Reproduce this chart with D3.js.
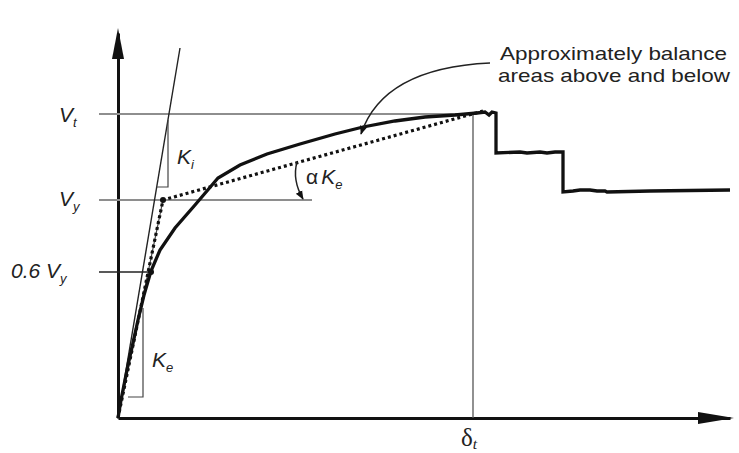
<!DOCTYPE html>
<html>
<head>
<meta charset="utf-8">
<script src="https://cdn.jsdelivr.net/npm/d3@7"></script>
<style>
  body { margin: 0; background: #fff; }
  svg { display: block; }
  text { font-family: "Liberation Sans", Arial, sans-serif; fill: #222; }
</style>
</head>
<body>
<div id="chart"></div>
<script>
// pushover curve (displacement, base shear), arbitrary units
const pushDisp  = [0, 0.3, 0.7, 1.1, 1.5, 2.0, 2.6, 3.3, 4.2, 5.7, 7.7, 10.0, 12.2, 14.9, 18.2, 21.7, 24.5, 27.7, 30.7, 33.7, 35.9, 36.7, 37.1, 37.4, 37.8, 37.8, 40.2, 40.9, 42.2, 42.9, 43.7, 44.5, 44.5, 45.5, 46.2, 47.2, 47.9, 48.7, 48.9, 53.2, 61.2];
const pushShear = [0, 1.8, 3.8, 5.8, 7.5, 9.8, 12.3, 14.7, 16.8, 19.0, 21.3, 24.0, 25.3, 26.4, 27.4, 28.4, 29.1, 29.7, 30.1, 30.3, 30.5, 30.6, 30.3, 30.6, 30.5, 26.5, 26.6, 26.5, 26.6, 26.5, 26.6, 26.6, 22.6, 22.7, 22.8, 22.8, 22.7, 22.7, 22.6, 22.7, 22.8];

// idealised bilinear curve
const bilinDisp  = [0, 4.5, 36.5];
const bilinShear = [0, 21.8, 30.7];

// stiffness lines
const kiDisp  = [0, 6.2];
const kiShear = [0, 37.0];
const keDisp  = [0, 4.5];
const keShear = [0, 21.8];

// horizontal guide levels
const levelNames  = ["Vt", "Vy", "0.6Vy"];
const levelValues = [30.4, 21.8, 14.6];
const levelEnds   = [35.7, 19.4, 3.2];
const levelStart  = -1.9;

const targetDisp = 35.5;   // delta t
const pointDisp  = [3.3, 4.5];   // 0.6Vy point, Vy point
const pointShear = [14.6, 21.8];

const W = 739, H = 453;
const svg = d3.select("#chart").append("svg")
  .attr("width", W).attr("height", H);

const x = d3.scaleLinear().domain([0, 61.2]).range([118, 730]);
const y = d3.scaleLinear().domain([0, 38.5]).range([418, 33]);

const line = d3.line().x(d => x(d[0])).y(d => y(d[1]));
const zip = (a, b) => a.map((v, i) => [v, b[i]]);

// axes without ticks, thick black
svg.append("g").attr("transform", `translate(0,${y(0)})`)
  .call(d3.axisBottom(x).tickValues([]).tickSizeOuter(0));
svg.append("g").attr("transform", `translate(${x(0)},0)`)
  .call(d3.axisLeft(y).tickValues([]).tickSizeOuter(0));
svg.selectAll(".domain").attr("stroke", "#111").attr("stroke-width", 3);

// arrowheads
const xr = x.range()[1], yr = y.range()[1];
svg.append("path").attr("fill", "#111")
  .attr("d", `M${xr + 4},${y(0)} L${xr - 32},${y(0) - 6} L${xr - 32},${y(0) + 6} Z`);
svg.append("path").attr("fill", "#111")
  .attr("d", `M${x(0)},${yr - 5} L${x(0) - 6},${yr + 26} L${x(0) + 6},${yr + 26} Z`);

// guide lines
levelValues.forEach((v, i) => {
  svg.append("line")
    .attr("x1", x(levelStart)).attr("x2", x(levelEnds[i]))
    .attr("y1", y(v)).attr("y2", y(v))
    .attr("stroke", i === 2 ? "#222" : "#8e8e8e")
    .attr("stroke-width", i === 2 ? 1.3 : 2);
});

// delta t line
svg.append("line")
  .attr("x1", x(targetDisp)).attr("x2", x(targetDisp))
  .attr("y1", y(0)).attr("y2", y(levelValues[0]))
  .attr("stroke", "#555").attr("stroke-width", 1.3);

// Ki and Ke lines with their slope triangles
svg.append("path").datum(zip(kiDisp, kiShear)).attr("d", line)
  .attr("fill", "none").attr("stroke", "#222").attr("stroke-width", 1.4);
svg.append("path").datum(zip(keDisp, keShear)).attr("d", line)
  .attr("fill", "none").attr("stroke", "#444").attr("stroke-width", 1.2);

const kiTri = [[5.0, 29.8], [5.0, 23.1], [3.87, 23.1]];
const keTri = [[2.5, 11.0], [2.5, 2.1], [1.0, 2.1]];
[kiTri, keTri].forEach(t => {
  svg.append("path").datum(t).attr("d", line)
    .attr("fill", "none").attr("stroke", "#444").attr("stroke-width", 1.2);
});

// bilinear dotted
svg.append("path").datum(zip(bilinDisp, bilinShear)).attr("d", line)
  .attr("fill", "none").attr("stroke", "#111").attr("stroke-width", 3.2)
  .attr("stroke-dasharray", "3,3");

// pushover curve
svg.append("path").datum(zip(pushDisp, pushShear)).attr("d", line)
  .attr("fill", "none").attr("stroke", "#111").attr("stroke-width", 3.3)
  .attr("stroke-linejoin", "miter");

// points
svg.selectAll(".pt").data(zip(pointDisp, pointShear)).enter().append("circle")
  .attr("cx", d => x(d[0])).attr("cy", d => y(d[1])).attr("r", 3).attr("fill", "#111");

// arrow marker
svg.append("defs").append("marker").attr("id", "ah")
  .attr("viewBox", "0 0 10 10").attr("refX", 9).attr("refY", 5)
  .attr("markerWidth", 6).attr("markerHeight", 6).attr("orient", "auto")
  .append("path").attr("d", "M0,1 L10,5 L0,9 Z").attr("fill", "#111");

// leader from note to curve
svg.append("path")
  .attr("d", `M${x(37.2)},${y(35.5)} Q${x(26.5)},${y(35.0)} ${x(24.3)},${y(28.4)}`)
  .attr("fill", "none").attr("stroke", "#222").attr("stroke-width", 1.5)
  .attr("marker-end", "url(#ah)");

// alpha Ke angle arc
svg.append("path")
  .attr("d", `M${x(17.9)},${y(25.6)} Q${x(17.4)},${y(23.8)} ${x(18.5)},${y(21.9)}`)
  .attr("fill", "none").attr("stroke", "#222").attr("stroke-width", 1.5)
  .attr("marker-end", "url(#ah)");

// labels
function label(px, py, main, sub, size, opts = {}) {
  const t = svg.append("text").attr("x", px).attr("y", py)
    .attr("font-size", size).attr("font-style", opts.italic === false ? "normal" : "italic");
  if (opts.family) t.style("font-family", opts.family);
  t.append("tspan").text(main);
  if (sub) t.append("tspan").attr("dy", opts.subDy || 5).attr("font-size", size * 0.62)
    .attr("font-style", "italic").text(sub);
  return t;
}
label(59, y(levelValues[0]) + 8, "V", "t", 21);
label(59, y(levelValues[1]) + 6, "V", "y", 21);
label(11, y(levelValues[2]) + 6, "0.6 V", "y", 21);
label(177, 164, "K", "i", 21);
label(152, 367, "K", "e", 21);
svg.append("text").attr("x", 306).attr("y", 184).attr("font-size", 21)
  .call(t => {
    t.append("tspan").text("α");
    t.append("tspan").attr("dx", 3).attr("font-style", "italic").text("K");
    t.append("tspan").attr("font-style", "italic").attr("dy", 5).attr("font-size", 13).text("e");
  });
label(x(targetDisp) - 12, 446, "δ", "t", 25, { italic: false, family: "'Liberation Serif', serif", subDy: 3 });

const note = ["Approximately balance", "areas above and below"];
svg.selectAll(".note").data(note).enter().append("text")
  .attr("x", (d, i) => i ? 498 : 500).attr("y", (d, i) => 60 + i * 22)
  .attr("font-size", 18.5)
  .attr("textLength", (d, i) => i ? 232 : 227)
  .attr("lengthAdjust", "spacingAndGlyphs")
  .text(d => d);
</script>
</body>
</html>
